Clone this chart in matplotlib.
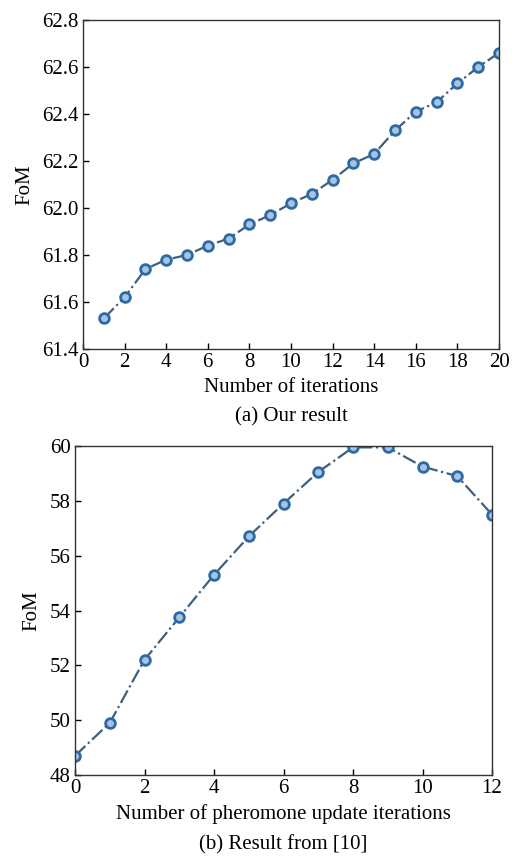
import numpy as np
import matplotlib.pyplot as plt

plt.rcParams['font.family'] = ['Liberation Serif', 'DejaVu Serif']

# Datos (a)
iter_a = [1, 2, 3, 4, 5, 6, 7, 8, 9, 10, 11, 12, 13, 14, 15, 16, 17, 18, 19, 20]
fom_a = [61.53, 61.62, 61.74, 61.78, 61.80, 61.84, 61.87, 61.93, 61.97, 62.02,
         62.06, 62.12, 62.19, 62.23, 62.33, 62.41, 62.45, 62.53, 62.60, 62.66]

# Datos (b)
iter_b = [0, 1, 2, 3, 4, 5, 6, 7, 8, 9, 10, 11, 12]
fom_b = [48.7, 49.9, 52.2, 53.75, 55.3, 56.7, 57.9, 59.05, 59.95, 59.95, 59.25, 58.9, 57.5]

line_color = "#3f5f7d"
edge_color = "#2c6aa6"
face_color = "#a7c3df"
fs = 15

fig = plt.figure(figsize=(5.12, 8.57), dpi=100)
ax1 = fig.add_axes([83 / 512, 1 - 349 / 857, 416 / 512, 329 / 857])
ax2 = fig.add_axes([75 / 512, 1 - 775 / 857, 417 / 512, 329 / 857])

def estilo(ax):
    ax.tick_params(direction="in", labelsize=fs, length=4, width=1, top=False, right=False, pad=3)
    for s in ax.spines.values():
        s.set_linewidth(1.0)
        s.set_color("#333333")

# Grafico (a)
ax1.plot(iter_a, fom_a, linestyle="-.", color=line_color, linewidth=1.6,
         marker="o", markersize=7, markerfacecolor=face_color, markeredgecolor=edge_color,
         markeredgewidth=2)
ax1.set_xlim(0, 20)
ax1.set_ylim(61.4, 62.8)
ax1.set_xticks(np.arange(0, 21, 2))
ax1.set_yticks(np.arange(61.4, 62.81, 0.2))
ax1.set_yticklabels([f"{v:.1f}" for v in np.arange(61.4, 62.81, 0.2)])
ax1.set_xlabel("Number of iterations", fontsize=fs, labelpad=4)
ax1.set_ylabel("FoM", fontsize=fs, labelpad=6)
estilo(ax1)
fig.text(291 / 512, 1 - 417 / 857, "(a) Our result", ha="center", va="center", fontsize=fs)

# Grafico (b)
ax2.plot(iter_b, fom_b, linestyle="-.", color=line_color, linewidth=1.6,
         marker="o", markersize=7, markerfacecolor=face_color, markeredgecolor=edge_color,
         markeredgewidth=2)
ax2.set_xlim(0, 12)
ax2.set_ylim(48, 60)
ax2.set_xticks(np.arange(0, 13, 2))
ax2.set_yticks(np.arange(48, 61, 2))
ax2.set_xlabel("Number of pheromone update iterations", fontsize=fs, labelpad=4)
ax2.set_ylabel("FoM", fontsize=fs, labelpad=6)
estilo(ax2)
fig.text(283 / 512, 1 - 845 / 857, "(b) Result from [10]", ha="center", va="center", fontsize=fs)

fig.savefig("out.png", dpi=100)
